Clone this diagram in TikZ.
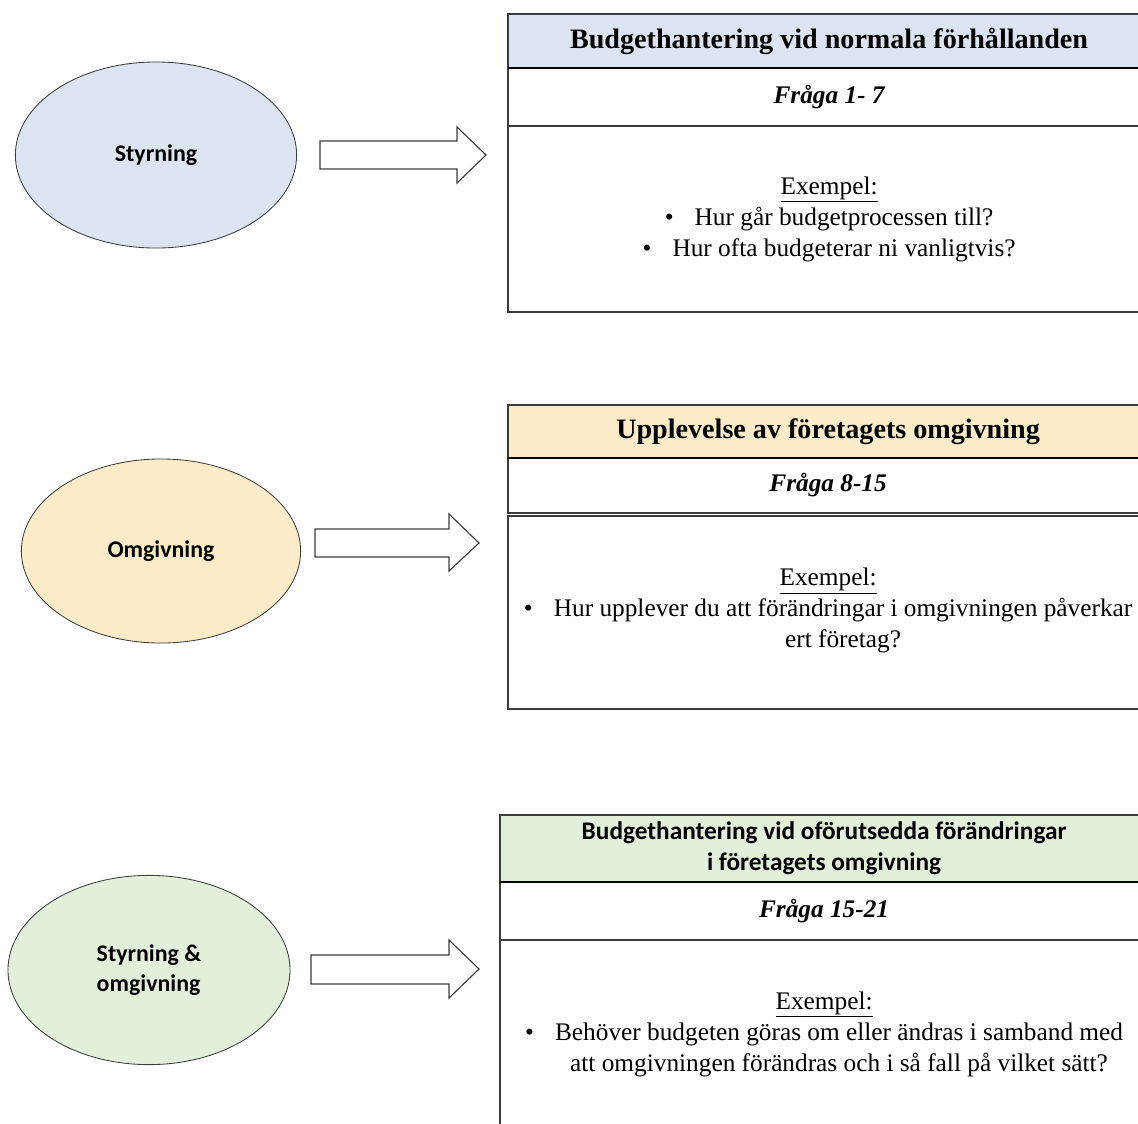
\documentclass[tikz,border=0pt]{standalone}
\usepackage{fontspec}
\setmainfont{Liberation Serif}
\newfontfamily\carlito{Carlito}
\usetikzlibrary{positioning, shapes.geometric}
\definecolor{blaa}{HTML}{DBE4F0}
\definecolor{gul}{HTML}{FCEBC8}
\definecolor{gron}{HTML}{E2EFDA}
\definecolor{ram}{HTML}{3C3C3C}
\tikzstyle{cirkel} = [ellipse, draw=ram, line width=0.6pt, minimum width=7.03cm, minimum height=4.65cm, font=\carlito\fontsize{17}{21}\selectfont\bfseries]
\tikzstyle{blokpil} = [draw=ram, fill=white, line width=0.8pt, line join=miter]
\tikzstyle{ruta} = [rectangle, draw=ram, line width=0.9pt, minimum width=16cm, inner sep=0pt, outer sep=0pt, align=center]
\tikzstyle{rubrik} = [ruta, font=\fontsize{20}{24}\selectfont\bfseries]
\tikzstyle{fraga} = [ruta, font=\fontsize{18}{22}\selectfont\bfseries\itshape]
\tikzstyle{exempel} = [ruta, font=\fontsize{18}{22}\selectfont]
\tikzstyle{tjock} = [-, line width=1.8pt, black]

\begin{document}
\begin{tikzpicture}[x=0.025cm, y=-0.025cm]

	\clip (0,0) rectangle (1138,1124);
	\fill[white] (0,0) rectangle (1138,1124);

	%% Ellipser
	\node[cirkel, fill=blaa] (styr) at (156,155) {Styrning};
	\node[cirkel, fill=gul, minimum width=6.98cm, minimum height=4.6cm] (omg) at (161,551) {Omgivning};
	\node[cirkel, fill=gron, align=left, minimum width=7.05cm, minimum height=4.73cm] (styromg) at (149,970) {Styrning \&\\omgivning};

	%% Pilar
	\draw[blokpil] (320,141) -- (457,141) -- (457,127) -- (486,155) -- (457,183) -- (457,169) -- (320,169) -- cycle;
	\draw[blokpil] (315,529) -- (449,529) -- (449,514) -- (479,543) -- (449,571) -- (449,557) -- (315,557) -- cycle;
	\draw[blokpil] (311,955) -- (449,955) -- (449,940) -- (479,969) -- (449,998) -- (449,984) -- (311,984) -- cycle;

	%% Ruta 1
	\node[rubrik, fill=blaa, anchor=north west, minimum width=16.05cm, minimum height=1.35cm] (rub1) at (508,14) {Budgethantering vid normala förhållanden};
	\node[fraga, below=0pt of rub1, minimum width=16.05cm, minimum height=1.45cm] (fr1) {Fråga 1- 7};
	\node[exempel, below=0pt of fr1, minimum width=16.05cm, minimum height=4.65cm] (ex1) {\underline{Exempel:}\\
		\textbullet\hspace{15pt}Hur går budgetprocessen till?\\
		\textbullet\hspace{15pt}Hur ofta budgeterar ni vanligtvis?};
	\draw[tjock] (rub1.south west) -- (rub1.south east);

	%% Ruta 2
	\node[rubrik, fill=gul, anchor=north west, minimum height=1.325cm] (rub2) at (508,405) {Upplevelse av företagets omgivning};
	\node[fraga, below=0pt of rub2, minimum height=1.375cm] (fr2) {Fråga 8-15};
	\node[exempel, below=0.075cm of fr2, minimum height=4.825cm] (ex2) {\underline{Exempel:}\\
		\begin{tabular}{@{}l@{\hspace{15pt}}c@{}}
			\textbullet & Hur upplever du att förändringar i omgivningen påverkar\\
			& ert företag?
		\end{tabular}};
	\draw[tjock] (rub2.south west) -- (rub2.south east);

	%% Ruta 3
	\node[rubrik, fill=gron, anchor=north west, minimum width=16.2cm, minimum height=1.675cm, font=\carlito\fontsize{18}{22}\selectfont\bfseries] (rub3) at (500,815) {Budgethantering vid oförutsedda förändringar\\i företagets omgivning};
	\node[fraga, below=0pt of rub3, minimum width=16.2cm, minimum height=1.45cm] (fr3) {Fråga 15-21};
	\node[exempel, below=0pt of fr3, minimum width=16.2cm, minimum height=4.8cm] (ex3) {\underline{Exempel:}\\
		\begin{tabular}{@{}l@{\hspace{15pt}}c@{}}
			\textbullet & Behöver budgeten göras om eller ändras i samband med\\
			& att omgivningen förändras och i så fall på vilket sätt?
		\end{tabular}};
	\draw[tjock] (rub3.south west) -- (rub3.south east);

\end{tikzpicture}
\end{document}
